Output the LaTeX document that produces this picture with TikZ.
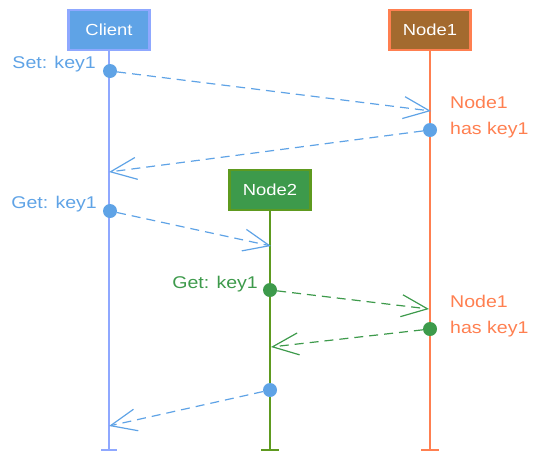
\documentclass[tikz,border=0pt]{standalone}
\usepackage{fontspec}
\setmainfont{Liberation Sans}[FakeStretch=1.15]
\usetikzlibrary{arrows.meta}
\definecolor{cblue}{HTML}{5FA3E6}
\definecolor{cperi}{HTML}{8FA8FF}
\definecolor{corange}{HTML}{FF7F50}
\definecolor{cbrown}{HTML}{A36A2F}
\definecolor{cgreen}{HTML}{3D9A4B}
\definecolor{colive}{HTML}{5E9A1F}
\begin{document}
\begin{tikzpicture}[x=1pt,y=-1pt,
  box/.style={minimum width=81pt,minimum height=40pt,line width=2.2pt,text=white,font=\fontsize{16}{18}\selectfont,inner sep=0pt},
  life/.style={line width=2.4pt},
  msg/.style={dash pattern=on 9pt off 6pt,line width=1.2pt,-{Straight Barb[length=26pt,width=22pt,line width=1.2pt]}},
  dot/.style={circle,fill,inner sep=0pt,minimum size=14pt},
  lbl/.style={font=\fontsize{17}{26}\selectfont,inner sep=0pt,align=left}]
\useasboundingbox (0,0) rectangle (540,461);
% lifeline heads
\node[box,fill=cblue,draw=cperi] (client) at (109,30) {Client};
\node[box,fill=cbrown,draw=corange] (node1) at (430,30) {Node1};
\node[box,fill=cgreen,draw=colive] (node2) at (270,190) {Node2};
% lifeline ends
\coordinate (cend) at (109,450);
\coordinate (n1end) at (430,450);
\coordinate (n2end) at (270,450);
\draw[life,cperi] (client.south) -- (cend);
\draw[life,corange] (node1.south) -- (n1end);
\draw[life,colive] (node2.south) -- (n2end);
\draw[life,cperi] ([xshift=-8pt]cend) -- ([xshift=8pt]cend);
\draw[life,corange] ([xshift=-9pt]n1end) -- ([xshift=9pt]n1end);
\draw[life,colive] ([xshift=-9pt]n2end) -- ([xshift=9pt]n2end);
% arrow targets
\coordinate (a1) at (431,111);
\coordinate (a2) at (109,172);
\coordinate (a3) at (271,246);
\coordinate (a4) at (429,309);
\coordinate (a5) at (271,347);
\coordinate (a6) at (109,426);
% dots
\node[dot,cblue] (d1) at (110,71) {};
\node[dot,cblue] (d2) at (430,130) {};
\node[dot,cblue] (d3) at (110,211) {};
\node[dot,cgreen] (d4) at (270,290) {};
\node[dot,cgreen] (d5) at (430,329) {};
\node[dot,cblue] (d6) at (270,390) {};
% messages
\draw[msg,cblue] (d1) -- (a1);
\draw[msg,cblue] (d2) -- (a2);
\draw[msg,cblue] (d3) -- (a3);
\draw[msg,cgreen] (d4) -- (a4);
\draw[msg,cgreen] (d5) -- (a5);
\draw[msg,cblue] (d6) -- (a6);
% labels
\node[lbl,cblue,anchor=east] (t1) at (96,64) {Set: key1};
\node[lbl,cblue,anchor=east] (t2) at (97,204) {Get: key1};
\node[lbl,cgreen,anchor=east] (t3) at (258,284) {Get: key1};
\node[lbl,corange,anchor=west] (t4) at (450,117) {Node1\\has key1};
\node[lbl,corange,anchor=west] (t5) at (450,316) {Node1\\has key1};
\end{tikzpicture}
\end{document}
